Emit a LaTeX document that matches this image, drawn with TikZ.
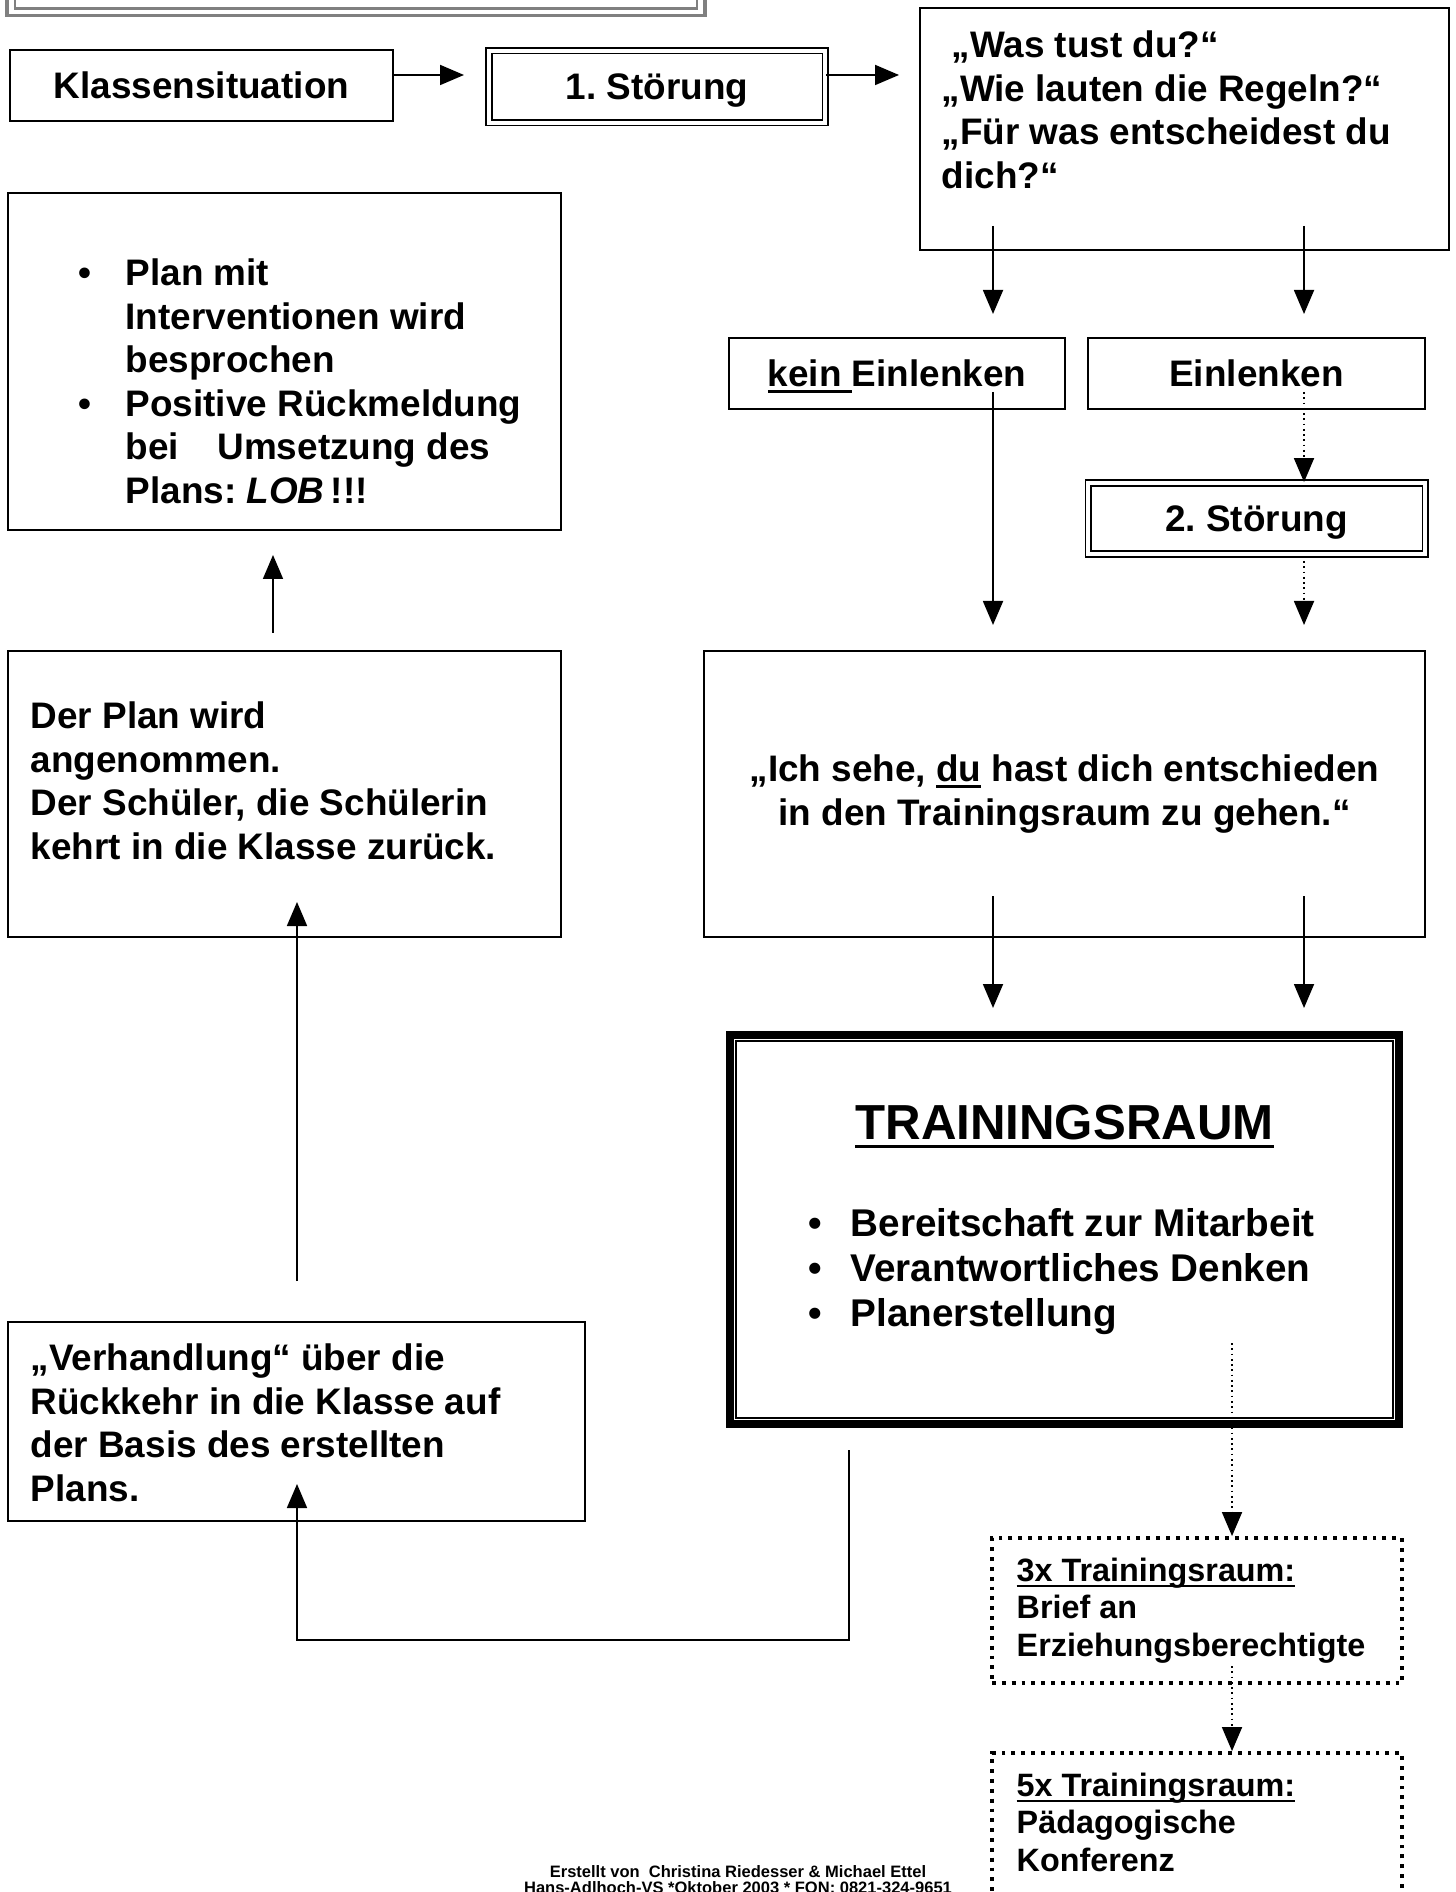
\documentclass[tikz,border=0pt]{standalone}
\usepackage{fontspec}
\setmainfont{Liberation Sans}
\usetikzlibrary{arrows.meta}
\frenchspacing
% Unterstreichung knapp unter der Grundlinie
\newcommand{\unterstr}[1]{\begingroup\setbox0=\hbox{#1}\rlap{\smash{\rule[-0.16em]{\wd0}{0.06em}}}\box0\endgroup}

\begin{document}
\begin{tikzpicture}[>={Triangle[length=2.4mm,width=2mm]},
box/.style={draw, line width=0.6pt, inner sep=0pt, font=\fontsize{10.5}{12.4}\selectfont\bfseries},
dblbox/.style={box, double, double distance=1pt, line width=0.5pt, text depth=0pt},
dotbox/.style={draw, line width=1.1pt, dash pattern=on 1.1pt off 1.7pt},
txt/.style={align=left, anchor=north west, inner sep=0pt, font=\fontsize{10.5}{12.4}\selectfont\bfseries},
arr/.style={->, line width=0.5pt},
dotarr/.style={->, line width=0.5pt, densely dotted}]
\useasboundingbox (0,0) rectangle (14.56,-18.92);
%% Kopf (oben abgeschnitten)
\draw[gray, line width=1pt] (0.07,0.3) rectangle (7.05,-0.155);
\draw[gray, line width=0.6pt] (0.15,0.3) rectangle (6.97,-0.085);
%%
\node[box, minimum width=3.83cm, minimum height=0.71cm] (klasse) at (2.015,-0.855) {Klassensituation};
\node[dblbox, minimum width=3.36cm, minimum height=0.72cm] (st1) at (6.57,-0.87) {1. Störung};
\node[box, minimum width=5.29cm, minimum height=2.42cm] (fragen) at (11.845,-1.29) {};
\node[txt] (fragentext) at (9.41,-0.30) {\hspace*{0.1cm}„Was tust du?“\\„Wie lauten die Regeln?“\\„Für was entscheidest du\\dich?“};
\coordinate (k1) at (4.64,-0.75);
\coordinate (s1) at (8.99,-0.75);
\draw[arr] (klasse.east |- k1) -- (k1);
\draw[arr] (st1.east |- s1) -- (s1);
%%
\node[box, minimum width=3.36cm, minimum height=0.71cm] (kein) at (8.97,-3.735) {\unterstr{kein\ }Einlenken};
\node[box, minimum width=3.37cm, minimum height=0.71cm] (ein) at (12.565,-3.735) {Einlenken};
\node[dblbox, minimum width=3.37cm, minimum height=0.71cm] (st2) at (12.565,-5.185) {2. Störung};
\coordinate (f1) at (9.93,-2.26);
\coordinate (f1e) at (9.93,-3.14);
\coordinate (f2) at (13.04,-2.26);
\coordinate (f2e) at (13.04,-3.14);
\draw[arr] (f1) -- (f1e);
\draw[arr] (f2) -- (f2e);
\coordinate (k2) at (9.93,-3.92);
\coordinate (k2e) at (9.93,-6.25);
\draw[arr] (k2) -- (k2e);
\coordinate (e1) at (13.04,-3.92);
\draw[dotarr] (e1) -- (e1 |- st2.north);
\coordinate (e2) at (13.04,-5.61);
\coordinate (e2e) at (13.04,-6.25);
\draw[dotarr] (e2) -- (e2e);
%%
\node[box, align=center, minimum width=7.21cm, minimum height=2.86cm] (ichsehe) at (10.645,-7.94) {„Ich sehe, \unterstr{du} hast dich entschieden\\in den Trainingsraum zu gehen.“};
\coordinate (i1) at (9.93,-8.96);
\coordinate (i1e) at (9.93,-10.08);
\coordinate (i2) at (13.04,-8.96);
\coordinate (i2e) at (13.04,-10.08);
\draw[arr] (i1) -- (i1e);
\draw[arr] (i2) -- (i2e);
%%
\node[draw, line width=2.3pt, minimum width=6.69cm, minimum height=3.89cm] (tr) at (10.645,-12.295) {};
\draw[line width=0.5pt] ([shift={(0.1,-0.1)}]tr.north west) rectangle ([shift={(-0.1,0.1)}]tr.south east);
\node[font=\fontsize{14}{16}\selectfont\bfseries, inner sep=0pt] (trtitel) at (10.645,-11.23) {\unterstr{TRAININGSRAUM}};
\node[txt, font=\fontsize{11}{12.8}\selectfont\bfseries] (trliste) at (8.08,-12.08) {\makebox[0.42cm][l]{•}Bereitschaft zur Mitarbeit\\\makebox[0.42cm][l]{•}Verantwortliches Denken\\\makebox[0.42cm][l]{•}Planerstellung};
%%
\node[dotbox, minimum width=4.10cm, minimum height=1.45cm] (drei) at (11.97,-16.105) {};
\node[txt, font=\fontsize{9.2}{10.6}\selectfont\bfseries] (dreitext) at (10.16,-15.575) {\unterstr{3x Trainingsraum:}\\Brief an\\Erziehungsberechtigte};
\node[dotbox, minimum width=4.10cm, minimum height=2.07cm] (fuenf) at (11.97,-18.565) {};
\node[txt, font=\fontsize{9.2}{10.6}\selectfont\bfseries] (fuenftext) at (10.16,-17.725) {\unterstr{5x Trainingsraum:}\\Pädagogische\\Konferenz};
\coordinate (t1) at (12.32,-13.43);
\draw[dotarr] (t1) -- (t1 |- drei.north);
\coordinate (d1) at (12.32,-16.66);
\draw[dotarr] (d1) -- (d1 |- fuenf.north);
%%
\node[box, minimum width=5.53cm, minimum height=3.37cm] (plan) at (2.845,-3.615) {};
\node[txt] (plantext) at (0.78,-2.58) {\makebox[0.47cm][l]{•}Plan mit\\\hspace*{0.47cm}Interventionen wird\\\hspace*{0.47cm}besprochen\\\makebox[0.47cm][l]{•}Positive Rückmeldung\\\hspace*{0.47cm}bei\hspace{0.385cm}Umsetzung des\\\hspace*{0.47cm}Plans: \textit{LOB}\,!!!};
\node[box, minimum width=5.53cm, minimum height=2.86cm] (derplan) at (2.845,-7.94) {};
\node[txt] (derplantext) at (0.30,-7.01) {Der Plan wird\\angenommen.\\Der Schüler, die Schülerin\\kehrt in die Klasse zurück.};
\node[box, minimum width=5.77cm, minimum height=1.99cm] (verh) at (2.965,-14.215) {};
\node[txt] (verhtext) at (0.30,-13.43) {„Verhandlung“ über die\\Rückkehr in die Klasse auf\\der Basis des erstellten\\Plans.};
\coordinate (p1) at (2.73,-6.33);
\coordinate (p1e) at (2.73,-5.55);
\draw[arr] (p1) -- (p1e);
\coordinate (v1) at (2.97,-12.81);
\coordinate (v1e) at (2.97,-9.02);
\draw[arr] (v1) -- (v1e);
\coordinate (r1) at (8.49,-14.50);
\coordinate (r2) at (8.49,-16.40);
\coordinate (r3) at (2.97,-14.84);
\draw[arr] (r1) -- (r2) -| (r3);
%%
\node[anchor=north, align=center, inner sep=0pt, font=\fontsize{4.7}{4.5}\selectfont\bfseries] (credit) at (7.38,-18.65) {Erstellt von\ \ Christina Riedesser \& Michael Ettel\\Hans-Adlhoch-VS *Oktober 2003 * FON: 0821-324-9651};
\end{tikzpicture}
\end{document}
